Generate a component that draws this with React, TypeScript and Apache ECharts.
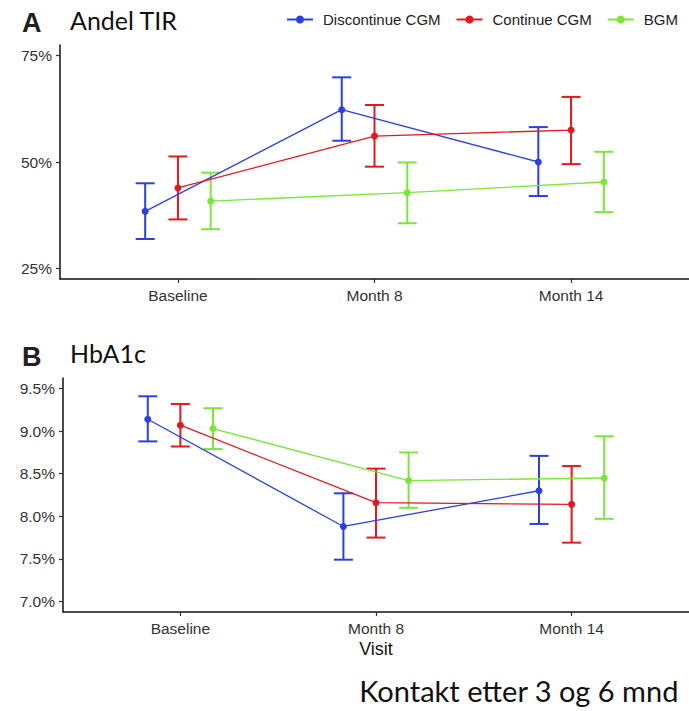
import React, { useEffect, useRef } from "react";
import * as echarts from "echarts";

// Categories
const visits = ["Baseline", "Month 8", "Month 14"];
const groups = ["Discontinue CGM", "Continue CGM", "BGM"];
const groupColors = ["#2B40DE", "#E3191F", "#7DE53A"];
const dodge = [-1 / 6, 0, 1 / 6];

// Panel A: Andel TIR (%) — mean, lower, upper
const tirDiscMean = [38.4, 62.3, 50.0];
const tirDiscLow = [31.9, 55.0, 42.0];
const tirDiscHigh = [45.0, 69.9, 58.2];
const tirContMean = [43.9, 56.1, 57.5];
const tirContLow = [36.5, 48.9, 49.5];
const tirContHigh = [51.3, 63.4, 65.3];
const tirBgmMean = [40.8, 42.8, 45.3];
const tirBgmLow = [34.2, 35.6, 38.2];
const tirBgmHigh = [47.5, 49.9, 52.4];

// Panel B: HbA1c (%) — mean, lower, upper
const hbaDiscMean = [9.14, 7.88, 8.30];
const hbaDiscLow = [8.88, 7.49, 7.91];
const hbaDiscHigh = [9.41, 8.27, 8.71];
const hbaContMean = [9.07, 8.16, 8.14];
const hbaContLow = [8.82, 7.75, 7.69];
const hbaContHigh = [9.32, 8.56, 8.59];
const hbaBgmMean = [9.03, 8.42, 8.45];
const hbaBgmLow = [8.79, 8.10, 7.97];
const hbaBgmHigh = [9.27, 8.75, 8.94];

// Tick labels
const tirTicks = [25, 50, 75];
const hbaTicks = [7.0, 7.5, 8.0, 8.5, 9.0, 9.5];

const tirData = [
  [tirDiscMean, tirDiscLow, tirDiscHigh],
  [tirContMean, tirContLow, tirContHigh],
  [tirBgmMean, tirBgmLow, tirBgmHigh],
];
const hbaData = [
  [hbaDiscMean, hbaDiscLow, hbaDiscHigh],
  [hbaContMean, hbaContLow, hbaContHigh],
  [hbaBgmMean, hbaBgmLow, hbaBgmHigh],
];

const axisFont = "'Liberation Sans', Arial, sans-serif";
const titleFont = "Lato, 'Open Sans', sans-serif";

function makeSeries(panel: number, data: number[][][]) {
  const out: any[] = [];
  data.forEach((g, gi) => {
    const color = groupColors[gi];
    out.push({
      type: "custom",
      name: groups[gi] + " error",
      xAxisIndex: panel,
      yAxisIndex: panel,
      z: 2,
      encode: { x: 0, y: [1, 2] },
      data: visits.map((_, i) => [i + dodge[gi], g[1][i], g[2][i]]),
      renderItem: (params: any, api: any) => {
        const x = api.value(0);
        const lo = api.coord([x, api.value(1)]);
        const hi = api.coord([x, api.value(2)]);
        const w = 9.5;
        const style = { stroke: color, lineWidth: 2, fill: "none" };
        return {
          type: "group",
          children: [
            { type: "line", shape: { x1: lo[0], y1: lo[1], x2: hi[0], y2: hi[1] }, style },
            { type: "line", shape: { x1: lo[0] - w, y1: lo[1], x2: lo[0] + w, y2: lo[1] }, style },
            { type: "line", shape: { x1: hi[0] - w, y1: hi[1], x2: hi[0] + w, y2: hi[1] }, style },
          ],
        };
      },
    });
    out.push({
      type: "line",
      name: groups[gi],
      xAxisIndex: panel,
      yAxisIndex: panel,
      z: 3,
      data: visits.map((_, i) => [i + dodge[gi], g[0][i]]),
      symbol: "circle",
      symbolSize: 7,
      color,
      itemStyle: { color },
      lineStyle: { color, width: 1.3 },
      emphasis: { disabled: true },
    });
  });
  return out;
}

function xAxisCfg(grid: number, withName: boolean) {
  return {
    type: "value",
    gridIndex: grid,
    min: -0.6,
    max: 2.6,
    splitLine: { show: false },
    axisLine: { show: true, onZero: false, lineStyle: { color: "#111", width: 1.5 } },
    axisTick: { show: true, customValues: [0, 1, 2], length: 4, lineStyle: { color: "#333", width: 1.2 } },
    axisLabel: {
      customValues: [0, 1, 2],
      formatter: (v: number) => visits[Math.round(v)] ?? "",
      color: "#333",
      fontSize: 15.5,
      fontFamily: axisFont,
      margin: 8,
    },
    name: withName ? "Visit" : "",
    nameLocation: "middle",
    nameGap: 28,
    nameTextStyle: { color: "#111", fontSize: 18, fontFamily: axisFont },
  };
}

function yAxisCfg(grid: number, min: number, max: number, ticks: number[], fmt: (v: number) => string) {
  return {
    type: "value",
    gridIndex: grid,
    min,
    max,
    splitLine: { show: false },
    axisLine: { show: true, onZero: false, lineStyle: { color: "#111", width: 1.5 } },
    axisTick: { show: true, customValues: ticks, length: 4, lineStyle: { color: "#333", width: 1.2 } },
    axisLabel: {
      customValues: ticks,
      formatter: fmt,
      color: "#333",
      fontSize: 15.5,
      fontFamily: axisFont,
      margin: 8,
    },
  };
}

export default function App() {
  const ref = useRef<HTMLDivElement>(null);
  useEffect(() => {
    if (!ref.current) return;
    const chart = echarts.init(ref.current, null, { renderer: "svg" });
    chart.setOption({
      animation: false,
      backgroundColor: "#ffffff",
      grid: [
        { left: 60, top: 45, width: 640, height: 234 },
        { left: 63, top: 378, width: 637, height: 234 },
      ],
      xAxis: [xAxisCfg(0, false), xAxisCfg(1, true)],
      yAxis: [
        yAxisCfg(0, 22.5, 77.5, tirTicks, (v: number) => `${Math.round(v)}%`),
        yAxisCfg(1, 6.875, 9.625, hbaTicks, (v: number) => `${v.toFixed(1)}%`),
      ],
      legend: {
        left: 281,
        top: 7,
        width: 500,
        data: groups,
        itemWidth: 26,
        itemHeight: 10,
        itemGap: 15,
        selectedMode: false,
        textStyle: { color: "#222", fontSize: 15, fontFamily: axisFont, padding: [0, 0, 0, 5] },
      },
      graphic: [
        { type: "text", left: 22, top: 9, style: { text: "A", font: `bold 27px ${axisFont}`, fill: "#222" } },
        { type: "text", left: 70, top: 7, style: { text: "Andel TIR", font: `25px ${titleFont}`, fill: "#111" } },
        { type: "text", left: 22, top: 343, style: { text: "B", font: `bold 27px ${axisFont}`, fill: "#222" } },
        { type: "text", left: 70, top: 340, style: { text: "HbA1c", font: `25px ${titleFont}`, fill: "#111" } },
        { type: "text", right: 10, top: 676, style: { text: "Kontakt etter 3 og 6 mnd", font: `29px ${titleFont}`, fill: "#111" } },
      ],
      series: [...makeSeries(0, tirData), ...makeSeries(1, hbaData)],
    });
    return () => chart.dispose();
  }, []);
  return (
    <div
      ref={ref}
      style={{ position: "fixed", left: 0, top: 0, width: 689, height: 711, background: "#fff" }}
    />
  );
}
